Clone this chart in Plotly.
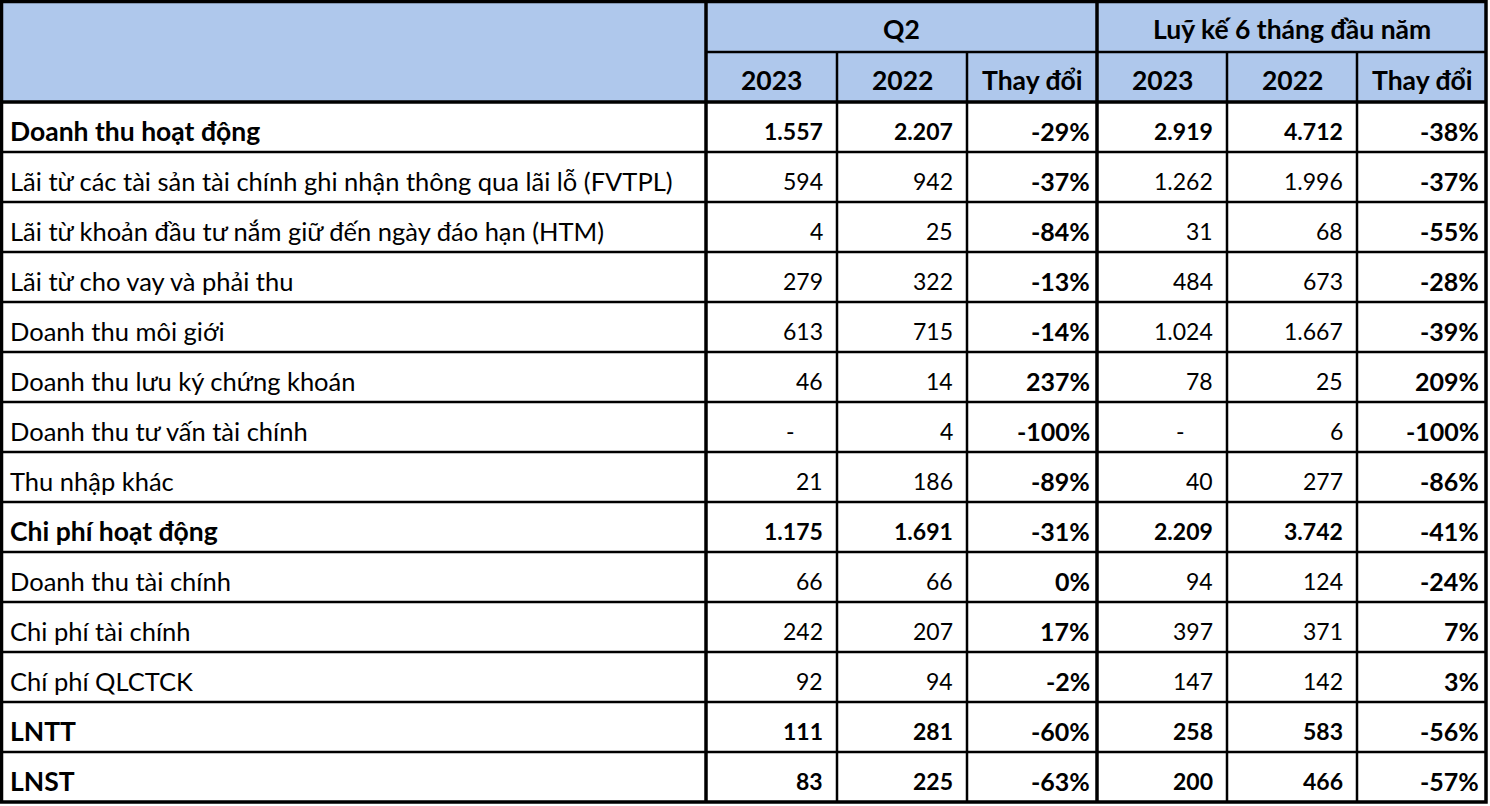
import plotly.graph_objects as go

# ---------------- data ----------------
row_labels = [
    "Doanh thu hoạt động",
    "Lãi từ các tài sản tài chính ghi nhận thông qua lãi lỗ (FVTPL)",
    "Lãi từ khoản đầu tư nắm giữ đến ngày đáo hạn (HTM)",
    "Lãi từ cho vay và phải thu",
    "Doanh thu môi giới",
    "Doanh thu lưu ký chứng khoán",
    "Doanh thu tư vấn tài chính",
    "Thu nhập khác",
    "Chi phí hoạt động",
    "Doanh thu tài chính",
    "Chi phí tài chính",
    "Chí phí QLCTCK",
    "LNTT",
    "LNST",
]
bold_rows = [True, False, False, False, False, False, False, False, True,
             False, False, False, True, True]

q2_2023 = [1557, 594, 4, 279, 613, 46, None, 21, 1175, 66, 242, 92, 111, 83]
q2_2022 = [2207, 942, 25, 322, 715, 14, 4, 186, 1691, 66, 207, 94, 281, 225]
q2_change = [-29, -37, -84, -13, -14, 237, -100, -89, -31, 0, 17, -2, -60, -63]
ytd_2023 = [2919, 1262, 31, 484, 1024, 78, None, 40, 2209, 94, 397, 147, 258, 200]
ytd_2022 = [4712, 1996, 68, 673, 1667, 25, 6, 277, 3742, 124, 371, 142, 583, 466]
ytd_change = [-38, -37, -55, -28, -39, 209, -100, -86, -41, -24, 7, 3, -56, -57]

group_labels = ["Q2", "Luỹ kế 6 tháng đầu năm"]
sub_labels = ["2023", "2022", "Thay đổi", "2023", "2022", "Thay đổi"]

# ---------------- layout geometry ----------------
W, H = 1490, 806
col_edges = [1.5, 706, 837, 967, 1097, 1227, 1357, 1486]
top = 1.5
hdr_mid = 52
hdr_bot = 102
row_h = 50
n = len(row_labels)
bottom = hdr_bot + row_h * n

FONT = "Lato"
FS_HDR = 26.5
FS_LBL = 25.5
FS_LBL_B = 26.5
FS_NUM = 23
FS_PCT = 25
hdr_fill = "#AFC8EC"

def fmt_num(v):
    if v is None:
        return None
    return f"{v:,}".replace(",", ".")

def fmt_pct(v):
    return f"{v}%"

def b(s, on):
    return f"<b>{s}</b>" if on else s

fig = go.Figure()
shapes = []
ann = []

def add_text(x, y, text, anchor, size):
    ann.append(dict(x=x, y=y, xref="x", yref="y", text=text, showarrow=False,
                    xanchor=anchor, yanchor="middle",
                    font=dict(family=FONT, size=size, color="black")))

# header background
shapes.append(dict(type="rect", x0=col_edges[0], x1=col_edges[-1], y0=top, y1=hdr_bot,
                   fillcolor=hdr_fill, line=dict(width=0), layer="below"))

def hline(y, x0, x1, w):
    shapes.append(dict(type="line", x0=x0, x1=x1, y0=y, y1=y, line=dict(color="black", width=w)))

def vline(x, y0, y1, w):
    shapes.append(dict(type="line", x0=x, x1=x, y0=y0, y1=y1, line=dict(color="black", width=w)))

# horizontal lines
hline(hdr_mid, col_edges[1], col_edges[-1], 2.5)
hline(hdr_bot, col_edges[0], col_edges[-1], 3.5)
for i in range(1, n):
    hline(hdr_bot + row_h * i, col_edges[0], col_edges[-1], 2.5)

# vertical lines
for j, x in enumerate(col_edges[1:-1], start=1):
    if j in (1, 4):
        vline(x, top, bottom, 3.5)
    else:
        vline(x, hdr_mid, bottom, 2.5)

# outer border
shapes.append(dict(type="rect", x0=col_edges[0], x1=col_edges[-1], y0=top, y1=bottom,
                   line=dict(color="black", width=3.5)))

# header text
add_text((col_edges[1] + col_edges[4]) / 2, (top + hdr_mid) / 2 + 2,
         b(group_labels[0], True), "center", FS_HDR)
add_text((col_edges[4] + col_edges[7]) / 2, (top + hdr_mid) / 2 + 2,
         b(group_labels[1], True), "center", FS_HDR)
for j, lab in enumerate(sub_labels):
    add_text((col_edges[j + 1] + col_edges[j + 2]) / 2, (hdr_mid + hdr_bot) / 2 + 3,
             b(lab, True), "center", FS_HDR)

cols = [q2_2023, q2_2022, q2_change, ytd_2023, ytd_2022, ytd_change]
for i in range(n):
    yc = hdr_bot + row_h * i + row_h / 2 + 4
    add_text(col_edges[0] + 6, yc, b(row_labels[i], bold_rows[i]), "left",
             FS_LBL_B if bold_rows[i] else FS_LBL)
    for j, col in enumerate(cols):
        v = col[i]
        right = col_edges[j + 2]
        if j in (2, 5):
            add_text(right - 5, yc, b(fmt_pct(v), True), "right", FS_PCT)
        elif v is None:
            add_text(right - 40, yc, b("-", bold_rows[i]), "right", FS_NUM)
        else:
            add_text(right - 12, yc, b(fmt_num(v), bold_rows[i]), "right", FS_NUM)

fig.update_layout(
    width=W, height=H,
    margin=dict(l=0, r=0, t=0, b=0),
    paper_bgcolor="white", plot_bgcolor="white",
    xaxis=dict(range=[0, W], visible=False, fixedrange=True),
    yaxis=dict(range=[H, 0], visible=False, fixedrange=True),
    shapes=shapes, annotations=ann, showlegend=False,
)

fig.write_html(
    "out.html",
    config={"displayModeBar": False, "staticPlot": True},
    post_script="document.body.style.margin='0';document.body.style.overflow='hidden';",
)
